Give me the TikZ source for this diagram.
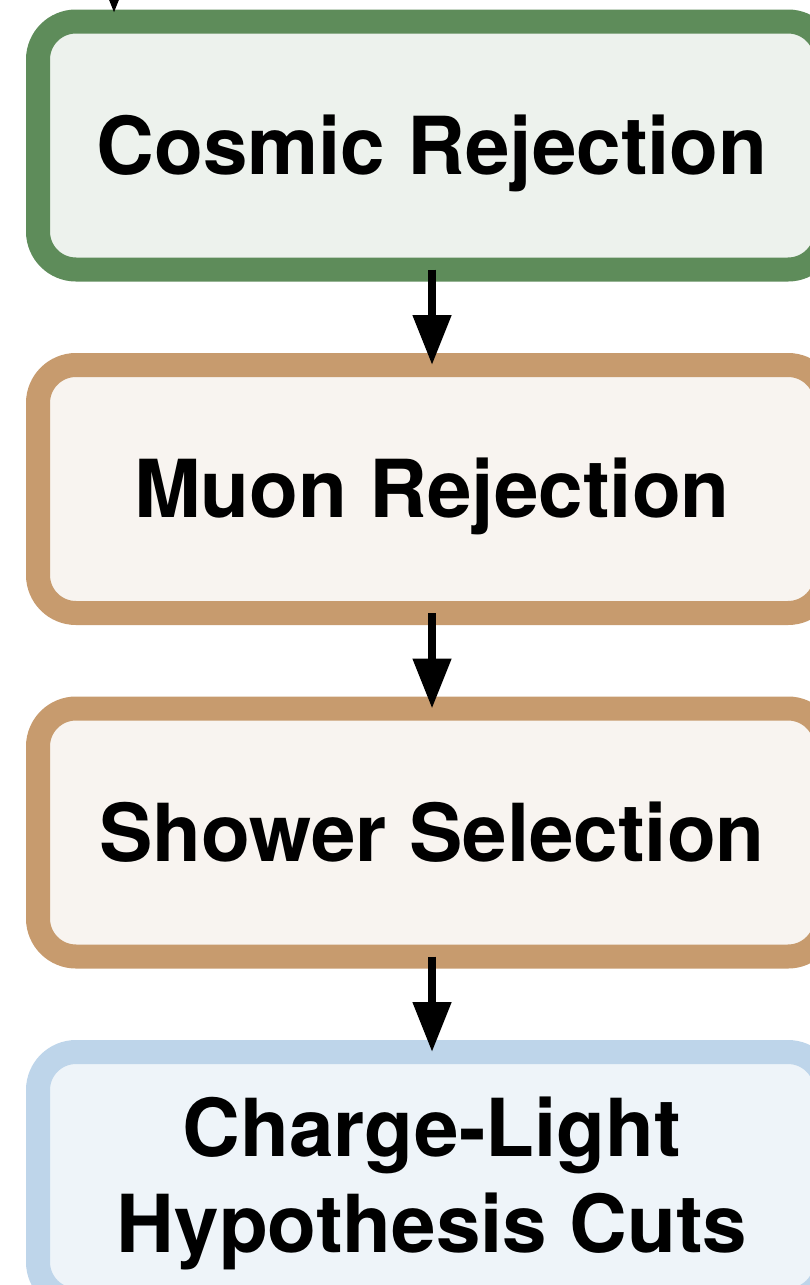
\documentclass[tikz,border=0pt]{standalone}
\usepackage{fontspec}
\setmainfont{TeX Gyre Heros}
\usetikzlibrary{arrows.meta}
\definecolor{gstroke}{RGB}{94,140,90}
\definecolor{gfill}{RGB}{237,242,237}
\definecolor{bstroke}{RGB}{199,155,110}
\definecolor{bfill}{RGB}{248,244,240}
\definecolor{lstroke}{RGB}{190,213,234}
\definecolor{lfill}{RGB}{238,244,249}
\tikzset{
  stagebox/.style={draw, rounded corners=38pt, line width=24pt,
    minimum width=788pt, minimum height=248pt, inner sep=0pt, outer sep=0pt,
    align=center, font=\fontsize{80}{96}\selectfont\bfseries,
    text height=57.4pt, text depth=0pt},
  flow/.style={line width=8pt, -{Triangle[width=37pt,length=50pt]}}
}
\begin{document}
\begin{tikzpicture}[x=1pt,y=1pt]
\useasboundingbox (0,0) rectangle (809,-1285);
\node[stagebox, draw=gstroke, fill=gfill] (b1) at (432,-145.5) {Cosmic Rejection};
\node[stagebox, draw=bstroke, fill=bfill] (b2) at (432,-489) {Muon Rejection};
\node[stagebox, draw=bstroke, fill=bfill] (b3) at (432,-832.5) {Shower Selection};
\node[stagebox, draw=lstroke, fill=lfill, text height=153.4pt] (b4) at (432,-1176) {Charge-Light\\Hypothesis Cuts};
\coordinate (top) at (114,100);
\coordinate (topend) at (114,-13);
\draw[flow] (top) -- (topend);
\draw[flow] (b1.south) -- (b2.north);
\draw[flow] (b2.south) -- (b3.north);
\draw[flow] (b3.south) -- (b4.north);
\end{tikzpicture}
\end{document}
